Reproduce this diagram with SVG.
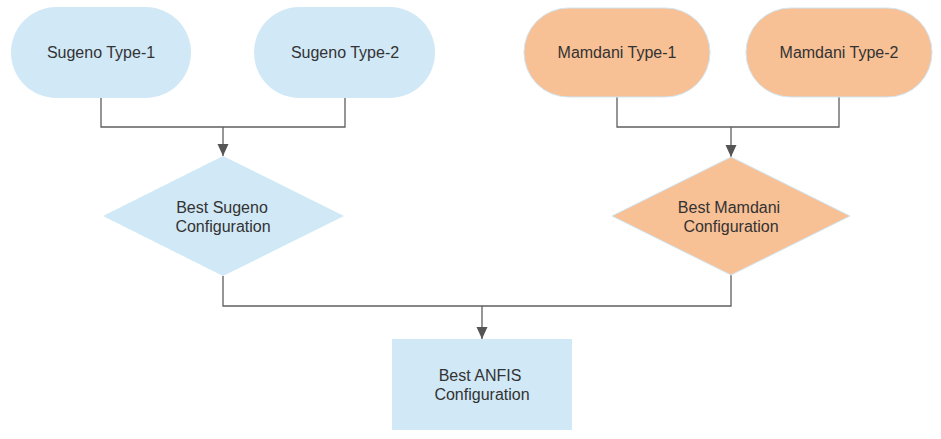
<svg xmlns="http://www.w3.org/2000/svg" width="941" height="439" viewBox="0 0 941 439">
<style>
.blue{fill:#d1e8f6;stroke:none}
.orange{fill:#f8c095;stroke:#cfe6f3;stroke-width:1}
.lbl{font-family:"Liberation Sans",Arial,sans-serif;font-size:16px;fill:#333;text-anchor:middle}
.conn{fill:none;stroke:#5f5f5f;stroke-width:1.3}
</style>
<defs>
<marker id="arr" viewBox="0 0 12 12" refX="12" refY="6" markerWidth="12" markerHeight="12" markerUnits="userSpaceOnUse" orient="auto">
<path d="M0,0.5 L12,6 L0,11.5 Z" fill="#555"/>
</marker>
</defs>
<rect width="941" height="439" fill="#fff"/>
<g id="connectors">
<path class="conn" d="M101,98 V127 H345 V98"/>
<path class="conn" d="M223,127 V156" marker-end="url(#arr)"/>
<path class="conn" d="M617,97 V127 H839 V97"/>
<path class="conn" d="M731,127 V157" marker-end="url(#arr)"/>
<path class="conn" d="M223,276 V306 H731 V275"/>
<path class="conn" d="M482,306 V339" marker-end="url(#arr)"/>
</g>
<g id="sugeno1">
<rect class="blue" x="11" y="7" width="180" height="91" rx="45.5"/>
<text class="lbl" x="101" y="58">Sugeno Type-1</text>
</g>
<g id="sugeno2">
<rect class="blue" x="254" y="7" width="181" height="91" rx="45.5"/>
<text class="lbl" x="345" y="58">Sugeno Type-2</text>
</g>
<g id="mamdani1">
<rect class="orange" x="524" y="8" width="186" height="89" rx="44.5"/>
<text class="lbl" x="617" y="58">Mamdani Type-1</text>
</g>
<g id="mamdani2">
<rect class="orange" x="746" y="8" width="186" height="89" rx="44.5"/>
<text class="lbl" x="839" y="58">Mamdani Type-2</text>
</g>
<g id="bestSugeno">
<polygon class="blue" points="223,156 344,216 223,276 103,216"/>
<text class="lbl" x="222" y="213">Best Sugeno</text>
<text class="lbl" x="223" y="232">Configuration</text>
</g>
<g id="bestMamdani">
<polygon class="orange" points="731,157 850,216 731,275 612,216"/>
<text class="lbl" x="729" y="213">Best Mamdani</text>
<text class="lbl" x="731" y="232">Configuration</text>
</g>
<g id="bestAnfis">
<rect class="blue" x="392" y="339" width="180" height="91"/>
<text class="lbl" x="480" y="381">Best ANFIS</text>
<text class="lbl" x="482" y="400">Configuration</text>
</g>
</svg>
